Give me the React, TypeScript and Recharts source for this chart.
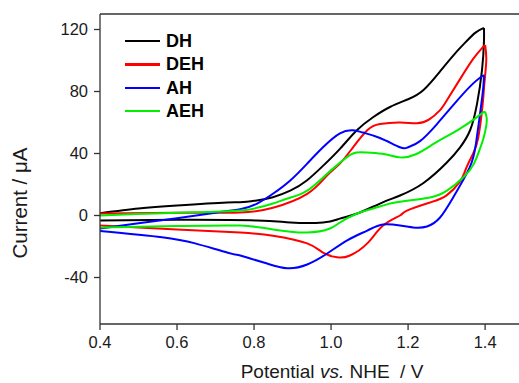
import React from "react";
import { LineChart, Line, XAxis, YAxis, ReferenceLine } from "recharts";

type P = [number, number];

// potential (V) vs current (µA), forward and reverse scan of each loop
const dhFwd: P[] = [
  [0.4, 1.5], [0.5, 4.5], [0.6, 6.5], [0.73, 8.4], [0.764, 8.5], [0.807, 9.7], [0.849, 11.8],
  [0.894, 16], [0.937, 22.6], [0.979, 32], [1.023, 43], [1.067, 55], [1.109, 63.4], [1.153, 70],
  [1.2, 75], [1.24, 81], [1.283, 93], [1.32, 104], [1.35, 112], [1.375, 118], [1.397, 121],
];
const dhRev: P[] = [
  [1.397, 121], [1.397, 112], [1.392, 94], [1.379, 72], [1.361, 55], [1.335, 44], [1.3, 34],
  [1.24, 21], [1.179, 12.9], [1.127, 7.7], [1.068, 1.3], [1.023, -2], [0.979, -4.5], [0.894, -4.5],
  [0.808, -3.2], [0.6, -2.8], [0.4, -3.2],
];
const dehFwd: P[] = [
  [0.4, 1.3], [0.6, 1.8], [0.764, 2], [0.849, 5], [0.938, 14], [0.99, 26], [1.023, 33.5],
  [1.057, 44], [1.094, 55], [1.127, 59], [1.18, 60], [1.223, 59.5], [1.255, 62], [1.283, 68],
  [1.3, 74], [1.335, 88], [1.369, 101], [1.392, 108], [1.4, 110],
];
const dehRev: P[] = [
  [1.4, 110], [1.403, 100], [1.398, 85], [1.393, 70], [1.382, 50], [1.369, 40], [1.35, 30],
  [1.335, 22], [1.3, 13], [1.257, 8.4], [1.197, 3.2], [1.179, 0], [1.135, -6.5], [1.094, -18],
  [1.049, -25.8], [1.016, -27], [0.979, -24], [0.938, -18], [0.849, -13], [0.764, -11],
  [0.6, -9], [0.4, -6.5],
];
const ahFwd: P[] = [
  [0.4, -8.4], [0.5, -5], [0.6, -1.7], [0.7, 1.8], [0.764, 4], [0.808, 7.7], [0.849, 14],
  [0.894, 22.6], [0.938, 33.5], [0.979, 44], [1.023, 53], [1.057, 55], [1.083, 53.5],
  [1.127, 50], [1.179, 44], [1.2, 44], [1.231, 48], [1.275, 59], [1.32, 72], [1.36, 83],
  [1.39, 89.5], [1.397, 90],
];
const ahRev: P[] = [
  [1.397, 90], [1.395, 82], [1.387, 66], [1.376, 46], [1.36, 31], [1.317, 11.6], [1.283, -1.3],
  [1.249, -7.1], [1.213, -7.7], [1.179, -6.5], [1.135, -5.8], [1.094, -9.7], [1.042, -16],
  [0.99, -24.5], [0.938, -31.6], [0.886, -34], [0.834, -31], [0.79, -27.7], [0.764, -25.8],
  [0.732, -24], [0.647, -18], [0.561, -14], [0.4, -10],
];
const aehFwd: P[] = [
  [0.4, 0], [0.6, 1.8], [0.764, 3.2], [0.849, 7.7], [0.894, 11.5], [0.938, 16], [0.99, 27],
  [1.023, 34], [1.057, 40], [1.094, 40.6], [1.14, 39.5], [1.179, 37.5], [1.22, 39.5],
  [1.265, 46], [1.3, 51], [1.335, 56], [1.379, 63.5], [1.395, 66.5], [1.4, 67],
];
const aehRev: P[] = [
  [1.4, 67], [1.404, 63], [1.403, 58], [1.396, 50], [1.385, 42], [1.37, 33], [1.345, 25],
  [1.301, 16], [1.257, 11.6], [1.197, 9.5], [1.15, 7.5], [1.109, 4.5], [1.068, 1.3],
  [1.023, -4.5], [0.997, -8.4], [0.938, -11], [0.849, -9], [0.764, -6.5], [0.6, -6.8], [0.4, -7.7],
];

const xTicks = [0.4, 0.6, 0.8, 1.0, 1.2, 1.4];
const yTicks = [-40, 0, 40, 80, 120];

const series = [
  { name: "DH", color: "#000000", fwd: dhFwd, rev: dhRev },
  { name: "DEH", color: "#ff0000", fwd: dehFwd, rev: dehRev },
  { name: "AH", color: "#0000ff", fwd: ahFwd, rev: ahRev },
  { name: "AEH", color: "#00f000", fwd: aehFwd, rev: aehRev },
];

const toRows = (pts: P[]) => pts.map(([v, i]) => ({ v, i }));

const FONT = '"Liberation Sans", Arial, sans-serif';
const AXIS = "#333";

export default function App() {
  return (
    <div style={{ position: "absolute", left: 0, top: 0, width: 519, height: 383, background: "#fff", fontFamily: FONT, overflow: "hidden" }}>
      <LineChart width={519} height={383} margin={{ top: 14, right: 0, bottom: 0, left: 0 }}>
        <XAxis
          dataKey="v"
          type="number"
          domain={[0.4, 1.488]}
          ticks={xTicks}
          allowDataOverflow
          height={59}
          tickSize={6}
          tickMargin={6}
          tickFormatter={(t: number) => t.toFixed(1)}
          stroke={AXIS}
          strokeWidth={1.3}
          tick={{ fill: "#1a1a1a", fontSize: 16.5, fontFamily: FONT }}
        />
        <YAxis
          type="number"
          domain={[-70, 130]}
          ticks={yTicks}
          allowDataOverflow
          width={100}
          tickSize={6}
          tickMargin={6}
          stroke={AXIS}
          strokeWidth={1.3}
          tick={{ fill: "#1a1a1a", fontSize: 16.5, fontFamily: FONT }}
        />
        <ReferenceLine y={130} stroke={AXIS} strokeWidth={1.3} />
        {series.flatMap((s) => [
          <Line
            key={s.name + "f"}
            data={toRows(s.fwd)}
            dataKey="i"
            type="natural"
            stroke={s.color}
            strokeWidth={2}
            dot={false}
            isAnimationActive={false}
          />,
          <Line
            key={s.name + "r"}
            data={toRows(s.rev)}
            dataKey="i"
            type="natural"
            stroke={s.color}
            strokeWidth={2}
            dot={false}
            isAnimationActive={false}
          />,
        ])}
      </LineChart>

      {/* legend */}
      {series.map((s, k) => (
        <div
          key={s.name}
          style={{ position: "absolute", left: 125, top: 41 + k * 23.4 - 11, height: 22, display: "flex", alignItems: "center" }}
        >
          <div style={{ width: 35, height: 2.5, background: s.color }} />
          <span style={{ marginLeft: 6, fontWeight: "bold", fontSize: 18, color: "#000", lineHeight: "22px" }}>
            {s.name}
          </span>
        </div>
      ))}

      {/* axis titles */}
      <div
        style={{
          position: "absolute",
          left: 20,
          top: 203,
          transform: "translate(-50%, -50%) rotate(-90deg)",
          fontSize: 20.5,
          lineHeight: "22px",
          whiteSpace: "pre",
          color: "#1a1a1a",
        }}
      >
        Current / μA
      </div>
      <div
        style={{
          position: "absolute",
          left: 332,
          top: 362,
          transform: "translateX(-50%)",
          fontSize: 19,
          lineHeight: "20px",
          height: 20,
          whiteSpace: "pre",
          color: "#1a1a1a",
        }}
      >
        Potential <i>vs.</i> NHE  / V
      </div>
    </div>
  );
}
